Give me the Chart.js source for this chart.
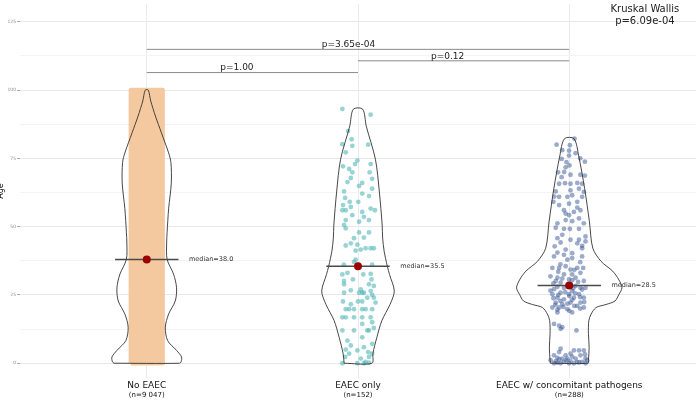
<!DOCTYPE html>
<html><head><meta charset="utf-8">
<script src="https://cdn.jsdelivr.net/npm/chart.js@4.4.1/dist/chart.umd.min.js"></script>
<style>html,body{margin:0;padding:0;background:#fff;overflow:hidden}</style>
</head><body>
<canvas id="c" width="700" height="401" style="width:700px;height:401px;display:block"></canvas>
<script>
// ---------------- data ----------------
const categories = ['No EAEC', 'EAEC only', 'EAEC w/ concomitant pathogens'];
const groupSizes = ['(n=9 047)', '(n=152)', '(n=288)'];
const medians = [38.0, 35.5, 28.5];
const yTickValues = [0, 25, 50, 75, 100, 125];
const yMinorValues = [12.5, 37.5, 62.5, 87.5, 112.5];
const noEaecRange = [0, 100];

// violin profiles: [age, density]
const violinNoEaec = [[0,33],[0.5,34.5],[2.3,35],[4.7,30],[8.3,21],[13.2,18.7],[18,22],[22.8,28.7],[27.6,30],[32.6,27],[38,20.5],[44,20],[48,20.5],[56.5,22],[66,24.7],[73.5,24.3],[77,22],[84.4,14.7],[90.5,8.7],[96,4],[100,1.5]];
const violinEaecOnly = [[0,14],[3.6,15],[9.5,19],[15.6,24],[21.6,32.3],[26.4,36.5],[32.5,31.7],[35.5,29.5],[41,26.3],[45.8,24.8],[50.6,24.3],[62.7,21.5],[74.7,17.5],[86.8,8.3],[93,4.7]];
const violinEaecConc = [[0,19],[1.1,19.3],[5.9,20],[10.8,19.3],[15.6,19.7],[18,22],[20.4,27],[21.5,37],[22.8,46],[25.2,50],[27.6,53],[30.5,50],[33.7,43.7],[37.3,32],[42.1,23.7],[51.8,20.3],[63.9,15.5],[75.9,9.5],[82.2,4.8]];

// jittered observations: [jitter, age]
const eaecOnlyPoints = [
[-0.074,93.1],[0.060,91],[-0.047,85],[-0.030,82],[-0.074,80.2],[-0.027,79.6],[0.048,80],[-0.058,77.2],[-0.003,74.2],[-0.071,72.1],
[-0.042,71.1],[-0.014,72.9],[0.060,72.9],[-0.027,69.9],[0.055,69.9],[0.067,67.5],[-0.034,67.8],[0.020,66],[-0.050,66.3],[0.005,64.9],
[0.067,63.9],[-0.066,62.9],[0.020,62.1],[0.052,61.2],[-0.061,60.5],[-0.039,59.1],[-0.071,57.9],[0.001,59.1],[-0.074,56],[-0.058,56],
[-0.034,57.2],[0.060,56.6],[0.080,56],[0.020,55.4],[0.028,53.6],[-0.027,54.2],[0.005,51.8],[-0.058,52.4],[-0.066,50.6],[0.052,52.4],
[-0.058,49.4],[-0.019,45.8],[0.028,46],[0.005,47.9],[0.052,47.9],[-0.058,43.1],[-0.034,43.9],[-0.003,43.4],[0.013,41.6],[0.036,42.1],
[0.060,42.1],[0.075,42.1],[-0.011,41.2],[-0.011,37.9],[-0.019,37.1],[-0.067,36.1],[-0.003,36.1],[0.067,36.1],[-0.074,32.5],[-0.050,33.1],
[0.025,32.5],[0.060,32.7],[-0.066,30.1],[0.064,30.7],[-0.024,30.7],[-0.066,28.9],[0.052,28.9],[0.075,28.3],[-0.034,26.7],[0.013,27],
[0.020,25.8],[0.028,25.8],[-0.066,25.8],[0.060,26.4],[0.044,24],[0.067,25],[0.075,24],[0.005,25.8],[-0.071,22.6],[-0.034,21.6],
[0,22.6],[0.020,22.6],[0.083,22.2],[-0.058,19.8],[-0.042,19.8],[-0.019,19.8],[0.020,19.8],[0.036,19.8],[0.067,19.8],[-0.074,16.8],
[-0.058,16.8],[-0.019,16.8],[0.020,16.8],[0.060,16.8],[0.067,15],[0.020,14.4],[-0.074,12],[-0.019,12],[0.044,12],[0.052,12],
[0.075,12.9],[0.020,9.5],[-0.050,8.3],[0.067,7.1],[-0.034,6.5],[0.028,5.9],[-0.058,5],[-0.003,4.7],[0.048,4.1],[0.067,3.5],
[-0.042,3.5],[-0.061,2.3],[0.013,1.7],[0.052,2.3],[-0.074,0],[-0.003,0],[0.028,0],[0.052,0.2],[0.036,0.5]
];
const eaecConcPoints = [
[0.025,82.2],[-0.060,80],[0.003,79.8],[-0.001,77.8],[0.030,76.9],[0.074,73.8],[-0.001,76],[-0.036,74.8],[-0.013,73.6],[-0.017,71.7],
[0.001,72.4],[-0.053,69.9],[0.006,69],[0.053,69],[0.074,68.7],[-0.036,68.1],[-0.048,65.7],[-0.020,65.9],[0.006,65.7],[0.061,65.7],
[-0.064,62.9],[0.006,63.3],[0.046,63.9],[0.069,62.7],[-0.048,60.9],[-0.009,60.9],[0.014,61.5],[-0.075,59.1],[-0.001,58.4],[0.038,59.1],
[0.061,60.9],[-0.048,57.9],[-0.025,56],[0.053,56],[-0.017,54.8],[0.022,55.4],[-0.001,54.2],[-0.017,52.4],[0.046,53],[-0.056,51.2],
[0.069,51.2],[-0.064,49.6],[-0.025,49.2],[0.003,49.2],[0.046,49.2],[-0.056,45.8],[0.006,45.2],[0.046,45.2],[0.077,46.4],[-0.041,44.2],
[0.038,43.9],[0.077,44.6],[-0.069,42.8],[-0.017,41.6],[0.061,42.1],[0.014,40.3],[-0.072,39.1],[-0.025,39.7],[0.061,39.1],[-0.009,37.9],
[-0.080,34.9],[-0.048,34.9],[-0.017,35.5],[0.006,34.3],[0.038,34.9],[0.066,34.9],[0.014,32.5],[0.053,33.1],[-0.025,32.5],[-0.056,31.3],
[0.030,31.3],[-0.001,30.7],[-0.064,30.1],[0.069,30.1],[-0.041,29.5],[-0.025,27.6],[-0.072,27.1],[0.030,28.3],[0.053,27.6],[0.077,27.6],
[0.014,26.4],[-0.041,25.8],[-0.001,25.3],[0.046,25.3],[-0.080,25.3],[-0.056,24],[-0.025,23.4],[0.022,24],[0.069,24],[-0.064,22.2],
[-0.033,21.6],[0.006,22.2],[0.053,22.2],[-0.048,20.4],[0.038,21],[-0.080,20.4],[-0.009,19.8],[0.069,20.4],[-0.056,18.6],[0.014,18.6],
[-0.072,14.4],[-0.048,13.8],[-0.033,13.2],[0.034,12],[-0.041,12.6],
[-0.041,5.3],[0.022,4.7],[0.046,4.7],[0.069,4.7],[-0.048,4.1],[-0.072,2.9],[-0.017,2.9],[0.006,3.5],[0.053,2.9],[-0.056,2],
[-0.033,1.7],[-0.009,1.7],[0.030,1.7],[0.077,1.7],[-0.088,1.1],[-0.064,0.8],[-0.025,0.5],[0.006,0.8],[0.038,0.5],[0.061,0.5],
[-0.072,0],[-0.041,0],[-0.001,0],[0.022,0],[0.077,0],[0.085,1.1],
[-0.089,31.8],[-0.033,31],[0.014,30.4],[0.042,29.8],[-0.075,29.2],[-0.009,28.6],[-0.056,28],[0.019,27.4],[0.061,27],[-0.089,26.6],
[-0.019,26],[0.028,25.6],[-0.052,25],[0,24.6],[0.052,24.2],[-0.075,23.8],[0.014,23.2],[-0.042,22.8],[0.071,22.4],[-0.009,21.8],
[-0.066,21.4],[0.024,21],[-0.028,20.6],[0.052,20],[-0.056,19.6],[0,19.2],[-0.052,33.5],[0.024,34.2],[-0.042,36.2],[0.052,37],
[0.014,38.5],[-0.056,40.5],[0.061,43],[-0.033,47],[0.014,52],[0.038,57],[-0.071,61],[0.038,66],[-0.024,70],[0.052,75],
[-0.033,78],[0.014,2.4],[-0.047,1.4],[0.047,0.3],[0.075,3.2],[-0.056,0.2],[-0.014,1]
];

const comparisons = [[1, 3], [2, 3], [1, 2]];
const comparisonP = ['p=3.65e-04', 'p=0.12', 'p=1.00'];
const comparisonLevel = [114.9, 110.7, 106.4];
const comparisonLabelAt = [1.955, 2.424, 1.427];
const kruskalText = ['Kruskal Wallis', 'p=6.09e-04'];
const kruskalAt = [3.358, 129.7, 125.2];
const yAxisTitle = 'Age';

// ---------------- build ----------------
const PX_PER_UNIT = 212.5;
const FONT = '"DejaVu Sans", Verdana, sans-serif';

function violinPath(center, profile) {
  const k = 1 / PX_PER_UNIT;
  const left = profile.map(([a, d]) => ({x: center - d * k, y: a}));
  const right = profile.slice().reverse().map(([a, d]) => ({x: center + d * k, y: a}));
  const pts = left.concat(right);
  pts.push(pts[0]);
  return pts;
}

const datasets = [];
// median dots
datasets.push({
  data: medians.map((m, i) => ({x: i + 1, y: m})),
  pointRadius: 4, pointBackgroundColor: '#9b0000', pointBorderWidth: 0,
  showLine: false, order: 0
});
// median lines
medians.forEach((m, i) => datasets.push({
  data: [{x: i + 1 - 0.15, y: m}, {x: i + 1 + 0.15, y: m}],
  showLine: true, borderColor: '#4a4a4a', borderWidth: 1.5, pointRadius: 0, order: 1
}));
// violins
[violinNoEaec, violinEaecOnly, violinEaecConc].forEach((prof, i) => datasets.push({
  data: violinPath(i + 1, prof),
  showLine: true, borderColor: '#333333', borderWidth: 0.9, pointRadius: 0,
  tension: 0.3, fill: false, order: 2
}));
// brackets
comparisons.forEach(([a, b], i) => datasets.push({
  data: [{x: a, y: comparisonLevel[i]}, {x: b, y: comparisonLevel[i]}],
  showLine: true, borderColor: '#8a8a8a', borderWidth: 1, pointRadius: 0, order: 2
}));
// jittered points
datasets.push({
  data: eaecOnlyPoints.map(([j, a]) => ({x: 2 + j, y: a})),
  pointRadius: 2.4, pointBackgroundColor: 'rgba(70,176,176,0.55)', pointBorderWidth: 0,
  showLine: false, order: 3
});
datasets.push({
  data: eaecConcPoints.map(([j, a]) => ({x: 3 + j, y: a})),
  pointRadius: 2.4, pointBackgroundColor: 'rgba(58,88,150,0.5)', pointBorderWidth: 0,
  showLine: false, order: 3
});
// dense No EAEC band
const bw = 0.075;
datasets.push({
  data: [{x: 1 - bw, y: noEaecRange[0]}, {x: 1 - bw, y: noEaecRange[1]}, {x: 1 + bw, y: noEaecRange[1]},
         {x: 1 + bw, y: noEaecRange[0]}, {x: 1 - bw, y: noEaecRange[0]}],
  showLine: true, fill: 'shape', backgroundColor: '#f4c9a0', borderColor: '#f4c9a0',
  borderWidth: 4.6, borderJoinStyle: 'round', pointRadius: 0, tension: 0, order: 4
});

const textPlugin = {
  id: 'texts',
  afterDatasetsDraw(chart) {
    const {ctx, scales: {x, y}, chartArea} = chart;
    ctx.save();
    // medians
    ctx.fillStyle = '#333';
    ctx.font = '6.5px ' + FONT;
    ctx.textAlign = 'left'; ctx.textBaseline = 'middle';
    medians.forEach((m, i) => ctx.fillText('median=' + m.toFixed(1), x.getPixelForValue(i + 1.2), y.getPixelForValue(m)));
    // p-values
    ctx.fillStyle = '#222';
    ctx.font = '9px ' + FONT;
    ctx.textAlign = 'center';
    comparisonP.forEach((p, i) => ctx.fillText(p, x.getPixelForValue(comparisonLabelAt[i]), y.getPixelForValue(comparisonLevel[i]) - 4.5));
    // Kruskal
    ctx.font = '10px ' + FONT;
    ctx.fillText(kruskalText[0], x.getPixelForValue(kruskalAt[0]), y.getPixelForValue(kruskalAt[1]));
    ctx.fillText(kruskalText[1], x.getPixelForValue(kruskalAt[0]), y.getPixelForValue(kruskalAt[2]));
    // x labels
    ctx.fillStyle = '#111';
    categories.forEach((c, i) => {
      const px = x.getPixelForValue(i + 1);
      ctx.font = '9px ' + FONT;
      ctx.fillText(c, px, chartArea.bottom + 8);
      ctx.font = '7px ' + FONT;
      ctx.fillText(groupSizes[i], px, chartArea.bottom + 17.5);
    });
    // y title (clipped at left edge)
    ctx.font = '8px ' + FONT;
    ctx.translate(1, (chartArea.top + chartArea.bottom) / 2);
    ctx.rotate(-Math.PI / 2);
    ctx.fillText(yAxisTitle, 0, 0);
    ctx.restore();
  }
};

new Chart(document.getElementById('c'), {
  type: 'scatter',
  data: {datasets},
  plugins: [textPlugin],
  options: {
    responsive: false, animation: false, devicePixelRatio: 1,
    layout: {padding: 0},
    plugins: {legend: {display: false}, tooltip: {enabled: false}},
    scales: {
      x: {
        type: 'linear', min: 0.4, max: 3.6,
        afterBuildTicks: s => { s.ticks = categories.map((c, i) => ({value: i + 1})); },
        ticks: {display: false},
        grid: {color: '#ebebeb', drawTicks: false, lineWidth: 1},
        border: {display: false},
        afterFit: s => { s.height = 23; }
      },
      y: {
        type: 'linear', min: -5.4, max: 131.5,
        afterBuildTicks: s => {
          s.ticks = yTickValues.concat(yMinorValues).sort((a, b) => a - b).map(v => ({value: v}));
        },
        ticks: {
          callback: v => yTickValues.includes(v) ? String(v) : '',
          font: {size: 4.5, family: FONT}, color: '#8a8a8a', padding: 1, autoSkip: false
        },
        grid: {
          color: c => yTickValues.includes(c.tick && c.tick.value) ? '#e8e8e8' : '#f4f4f4',
          tickColor: c => yTickValues.includes(c.tick && c.tick.value) ? '#aaaaaa' : 'rgba(0,0,0,0)',
          tickLength: 3, lineWidth: 1
        },
        border: {display: false},
        afterFit: s => { s.width = 20; }
      }
    }
  }
});
</script>
</body></html>
